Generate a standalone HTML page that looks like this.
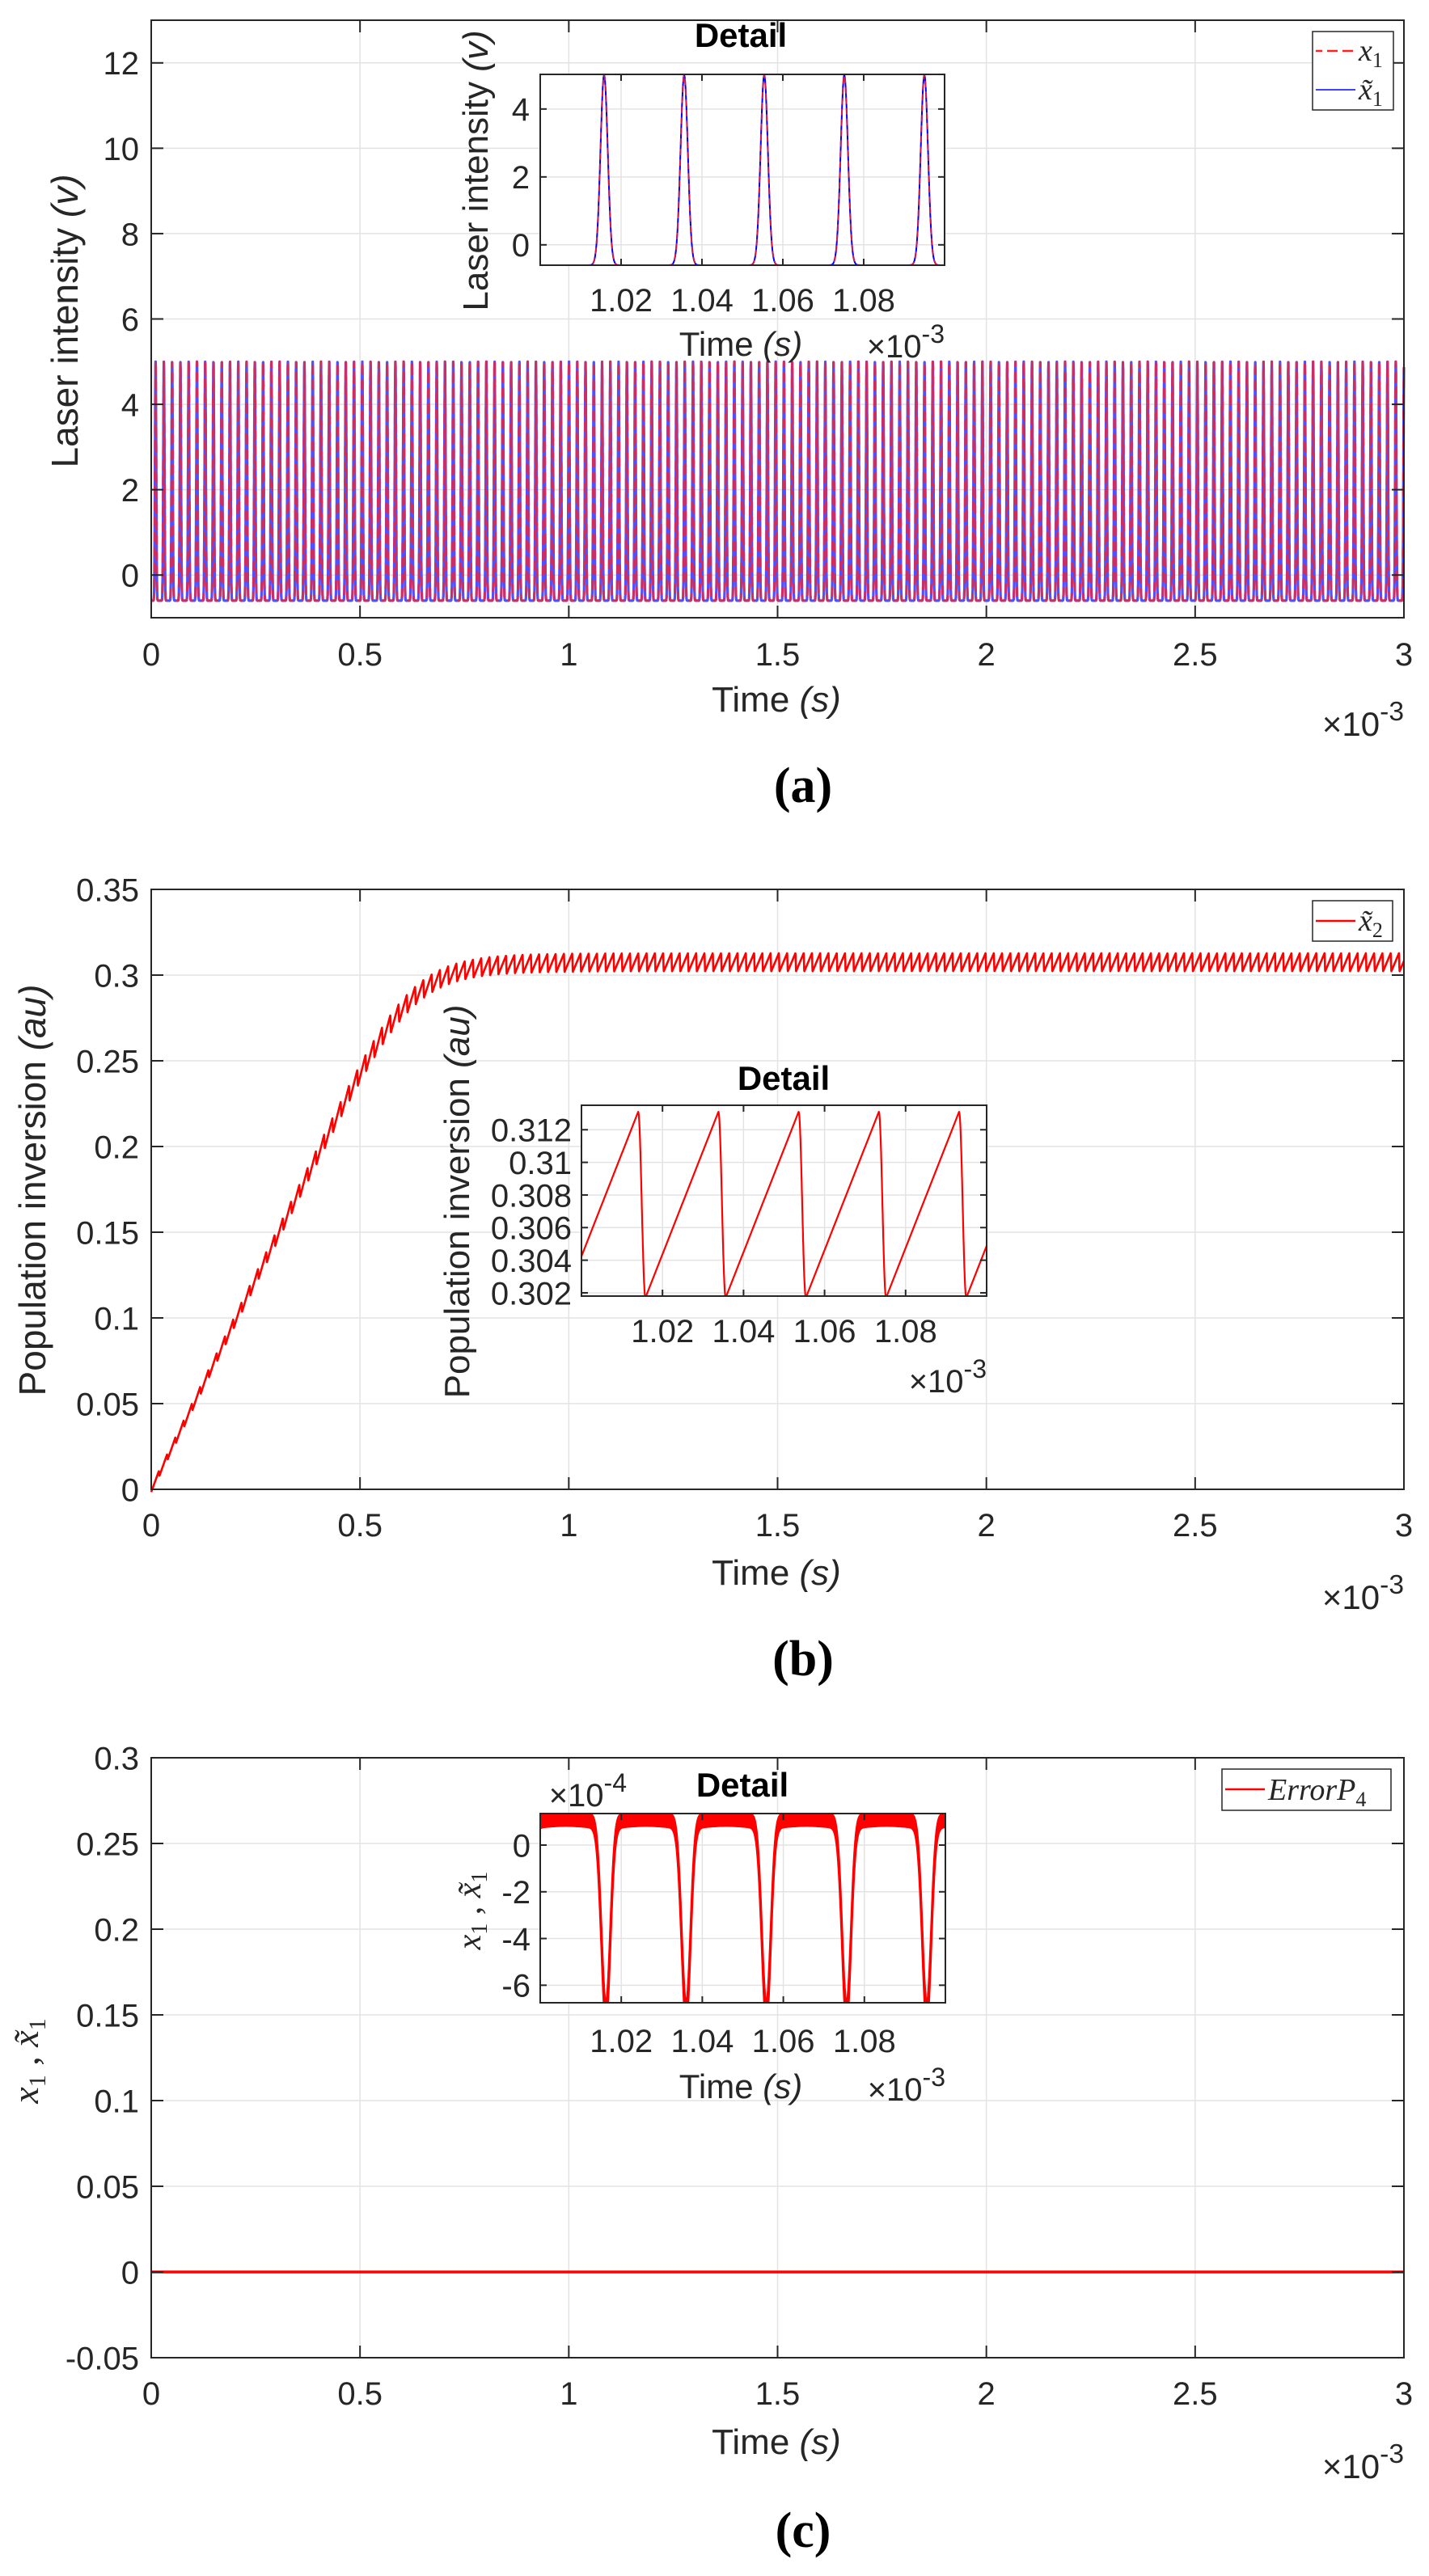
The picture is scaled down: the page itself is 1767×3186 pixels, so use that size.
<!DOCTYPE html>
<html><head><meta charset="utf-8">
<style>
html,body{margin:0;padding:0;background:#fff;}
svg{display:block;}
</style></head>
<body>
<svg id="s" xmlns="http://www.w3.org/2000/svg" width="1767" height="3186" viewBox="0 0 1767 3186" font-family="Liberation Sans, sans-serif"></svg>
<script>
const S=document.getElementById('s');
let out='';
function T(x,y,txt,opt){opt=opt||{};
 out+=`<text x="${x}" y="${y}" font-size="${opt.fs||40}" fill="${opt.fill||'#262626'}" text-anchor="${opt.a||'middle'}" ${opt.fw?'font-weight="'+opt.fw+'"':''} ${opt.ff?'font-family="'+opt.ff+'"':''} ${opt.tr?'transform="'+opt.tr+'"':''} ${opt.st?'font-style="'+opt.st+'"':''}>${txt}</text>`;}
function L(x1,y1,x2,y2,c,w){out+=`<line x1="${x1}" y1="${y1}" x2="${x2}" y2="${y2}" stroke="${c}" stroke-width="${w}"/>`;}
function axes(o){
 const {x0,y0,x1,y1,xl,yl,xt,yt}=o;
 const X=v=>x0+(v-xl[0])/(xl[1]-xl[0])*(x1-x0);
 const Y=v=>y1-(v-yl[0])/(yl[1]-yl[0])*(y1-y0);
 out+=`<rect x="${x0}" y="${y0}" width="${x1-x0}" height="${y1-y0}" fill="#fff"/>`;
 xt.forEach(v=>L(X(v),y0,X(v),y1,'#e3e3e3',1.5));
 yt.forEach(v=>L(x0,Y(v),x1,Y(v),'#e3e3e3',1.5));
 return {X,Y};
}
function frame(o,A){
 const {x0,y0,x1,y1,xt,yt,tl,fs,xlab,xfmt,yfmt,xly,ylx}=o;
 out+=`<rect x="${x0}" y="${y0}" width="${x1-x0}" height="${y1-y0}" fill="none" stroke="#262626" stroke-width="2"/>`;
 xt.forEach(v=>{L(A.X(v),y1,A.X(v),y1-tl,'#262626',2);L(A.X(v),y0,A.X(v),y0+tl,'#262626',2);
   if(xlab!==false)T(A.X(v),xly,(xfmt?xfmt(v):String(v)),{fs:fs});});
 yt.forEach(v=>{L(x0,A.Y(v),x0+tl,A.Y(v),'#262626',2);L(x1,A.Y(v),x1-tl,A.Y(v),'#262626',2);
   T(ylx,A.Y(v)+fs*0.36,(yfmt?yfmt(v):String(v)),{fs:fs,a:'end'});});
}
function path(pts,c,w,extra){let d='M'+pts.map(p=>p[0].toFixed(1)+','+p[1].toFixed(1)).join('L');
 out+=`<path d="${d}" fill="none" stroke="${c}" stroke-width="${w}" stroke-linejoin="round" ${extra||''}/>`;}
const P=0.0198, ph=1.0158;
function pulse(t,s){ s=s||0.0009;
 let k=Math.round((t-ph)/P); let d=t-(ph+k*P);
 return -0.6+5.6*Math.exp(-d*d/(2*s*s));}
function sawb(t){let u=((t-(ph-0.0018))/P)%1; if(u<0)u+=1;
 if(u<0.09){return 0.5-1.0*(0.5-0.5*Math.cos(u/0.09*Math.PI));}
 let r=(u-0.09)/0.91; return -0.5+r - 0.15*Math.pow(r,8)*0;}

const MX0=187,MX1=1736,xtM=[0,0.5,1,1.5,2,2.5,3];
const x10=(x,y,e,fs)=>{out+=`<text x="${x}" y="${y}" font-size="${fs}" fill="#262626" text-anchor="end">×10<tspan dy="-${fs*0.45}" font-size="${fs*0.8}">${e}</tspan></text>`;};

// ============ (a) ============
{const o={x0:MX0,y0:25,x1:MX1,y1:764,xl:[0,3],yl:[-1,13],xt:xtM,yt:[0,2,4,6,8,10,12],tl:15,fs:40,xly:823,ylx:172};
 const A=axes(o);
 let pb=[],N=12000;for(let i=0;i<=N;i++){let t=3*i/N;pb.push([A.X(t),A.Y(pulse(t+ph-0.0105,0.0014))]);}
 path(pb,'#5050ff',3.2);
 path(pb,'#ff2020',3,'stroke-dasharray="12,7" opacity="0.7"');
 frame(o,A);
 T(960,880,'Time <tspan font-style="italic">(s)</tspan>',{fs:44});
 x10(1736,910,'-3',42);
 T(96,397,'Laser intensity  <tspan font-style="italic">(v)</tspan>',{fs:46,tr:'rotate(-90 96 397)'});
 out+=`<rect x="1623" y="39" width="100" height="97" fill="#fff" stroke="#262626" stroke-width="1.5"/>`;
 L(1627,63,1676,63,'#ff2020',2.5);out+=`<line x1="1627" y1="63" x2="1676" y2="63" stroke="#fff" stroke-width="3" stroke-dasharray="0,8,6,5"/>`;
 L(1627,111,1676,111,'#0000ff',1.5);
 T(1680,75,'<tspan font-style="italic">x</tspan><tspan font-size="26" dy="8">1</tspan>',{fs:38,a:'start',ff:'Liberation Serif, serif'});
 T(1680,123,'<tspan font-style="italic">x̃</tspan><tspan font-size="26" dy="8">1</tspan>',{fs:38,a:'start',ff:'Liberation Serif, serif'});
 const oi={x0:668,y0:92,x1:1168,y1:328,xl:[1,1.1],yl:[-0.6,5.02],xt:[1.02,1.04,1.06,1.08],yt:[0,2,4],tl:8,fs:40,xly:385,ylx:655,xfmt:v=>v.toFixed(2)};
 const B=axes(oi);
 let q=[];for(let i=0;i<=1500;i++){let t=1+0.1*i/1500;q.push([B.X(t),B.Y(Math.min(5.02,pulse(t)))]);}
 path(q,'#0000ff',2);path(q,'#ff2020',2,'stroke-dasharray="8,5" opacity="0.8"');
 frame(oi,B);
 T(916,58,'Detail',{fs:42,fw:'bold',fill:'#000'});
 T(916,440,'Time <tspan font-style="italic">(s)</tspan>',{fs:42});
 x10(1168,442,'-3',40);
 T(603,211,'Laser intensity  <tspan font-style="italic">(v)</tspan>',{fs:44,tr:'rotate(-90 603 211)'});
 T(993,992,'(a)',{fs:62,fw:'bold',ff:'Liberation Serif, serif',fill:'#000'});
}
// ============ (b) ============
{const o={x0:MX0,y0:1100,x1:MX1,y1:1842,xl:[0,3],yl:[0,0.35],xt:xtM,yt:[0,0.05,0.1,0.15,0.2,0.25,0.3,0.35],tl:15,fs:40,xly:1900,ylx:172};
 const A=axes(o);
 const base=t=>{let a=0.49*t;let r=a/0.3075;return a/Math.pow(1+Math.pow(r,10),1/10);};
 let pb=[],N=12000;for(let i=0;i<=N;i++){let t=3*i/N;let amp=0.0105*Math.min(1,0.3+t/0.8);pb.push([A.X(t),A.Y(base(t)+amp*sawb(t+ph))]);}
 path(pb,'#ff0000',2.6);
 frame(o,A);
 T(960,1960,'Time <tspan font-style="italic">(s)</tspan>',{fs:44});
 x10(1736,1990,'-3',42);
 T(56,1472,'Population inversion  <tspan font-style="italic">(au)</tspan>',{fs:46,tr:'rotate(-90 56 1472)'});
 out+=`<rect x="1623" y="1114" width="99" height="50" fill="#fff" stroke="#262626" stroke-width="1.5"/>`;
 L(1627,1139,1676,1139,'#ff0000',2.5);
 T(1680,1151,'<tspan font-style="italic">x̃</tspan><tspan font-size="26" dy="8">2</tspan>',{fs:38,a:'start',ff:'Liberation Serif, serif'});
 const oi={x0:719,y0:1367,x1:1220,y1:1603,xl:[1,1.1],yl:[0.3018,0.3135],xt:[1.02,1.04,1.06,1.08],yt:[0.302,0.304,0.306,0.308,0.31,0.312],tl:8,fs:40,xly:1660,ylx:707,xfmt:v=>v.toFixed(2),yfmt:v=>String(+v.toFixed(3))};
 const B=axes(oi);
 let q=[];for(let i=0;i<=2000;i++){let t=1+0.1*i/2000;q.push([B.X(t),B.Y(0.3074+0.0114*sawb(t))]);}
 out+=`<clipPath id="cb"><rect x="719" y="1367" width="501" height="236"/></clipPath>`;
 out+='<g clip-path="url(#cb)">';path(q,'#ff0000',2.2);out+='</g>';
 frame(oi,B);
 T(969,1348,'Detail',{fs:42,fw:'bold',fill:'#000'});
 x10(1220,1722,'-3',40);
 T(580,1486,'Population inversion  <tspan font-style="italic">(au)</tspan>',{fs:44,tr:'rotate(-90 580 1486)'});
 T(993,2072,'(b)',{fs:62,fw:'bold',ff:'Liberation Serif, serif',fill:'#000'});
}
// ============ (c) ============
{const o={x0:MX0,y0:2174,x1:MX1,y1:2916,xl:[0,3],yl:[-0.05,0.3],xt:xtM,yt:[-0.05,0,0.05,0.1,0.15,0.2,0.25,0.3],tl:15,fs:40,xly:2974,ylx:172};
 const A=axes(o);
 L(MX0,A.Y(0),MX1,A.Y(0),'#ff0000',3.5);
 frame(o,A);
 T(960,3035,'Time <tspan font-style="italic">(s)</tspan>',{fs:44});
 x10(1736,3065,'-3',42);
 T(47,2549,'<tspan font-style="italic">x</tspan><tspan font-size="30" dy="9">1</tspan><tspan dy="-9"> ,  </tspan><tspan font-style="italic">x̃</tspan><tspan font-size="30" dy="9">1</tspan>',{fs:46,ff:'Liberation Serif, serif',tr:'rotate(-90 47 2549)'});
 out+=`<rect x="1511" y="2188" width="209" height="51" fill="#fff" stroke="#262626" stroke-width="1.5"/>`;
 L(1515,2213,1564,2213,'#ff0000',2.5);
 T(1568,2226,'<tspan font-style="italic">ErrorP</tspan><tspan font-size="26" dy="8">4</tspan>',{fs:38,a:'start',ff:'Liberation Serif, serif'});
 const oi={x0:668,y0:2243,x1:1169,y1:2477,xl:[1,1.1],yl:[-6.75,1.35],xt:[1.02,1.04,1.06,1.08],yt:[-6,-4,-2,0],tl:8,fs:40,xly:2538,ylx:656,xfmt:v=>v.toFixed(2)};
 const B=axes(oi);
 let top=[],bot=[];
 for(let i=0;i<=2000;i++){let t=1+0.1*i/2000;let k=Math.round((t-1.0162)/P);let d=t-(1.0162+k*P);
   let v=-8.1*Math.exp(-d*d/(2*0.0011*0.0011));
   top.push([B.X(t),B.Y(Math.max(-6.75,1.35+v))]);bot.push([B.X(t),B.Y(Math.max(-6.75,0.85+v*1.02+(-0.25*Math.exp(-Math.abs(d)/0.004))))]);}
 let d='M'+top.map(p=>p[0].toFixed(1)+','+p[1].toFixed(1)).join('L')+'L'+bot.reverse().map(p=>p[0].toFixed(1)+','+p[1].toFixed(1)).join('L')+'Z';
 out+=`<clipPath id="cc"><rect x="668" y="2243" width="501" height="234"/></clipPath><g clip-path="url(#cc)"><path d="${d}" fill="#ff0000" stroke="#ff0000" stroke-width="2.5"/></g>`;
 frame(oi,B);
 T(918,2222,'Detail',{fs:42,fw:'bold',fill:'#000'});
 x10(775,2234,'-4',40);
 T(916,2595,'Time <tspan font-style="italic">(s)</tspan>',{fs:42});
 x10(1169,2598,'-3',40);
 T(594,2363,'<tspan font-style="italic">x</tspan><tspan font-size="28" dy="8">1</tspan><tspan dy="-8"> ,  </tspan><tspan font-style="italic">x̃</tspan><tspan font-size="28" dy="8">1</tspan>',{fs:42,ff:'Liberation Serif, serif',tr:'rotate(-90 594 2363)'});
 T(993,3150,'(c)',{fs:62,fw:'bold',ff:'Liberation Serif, serif',fill:'#000'});
}
S.innerHTML=out;
</script>
</body></html>
